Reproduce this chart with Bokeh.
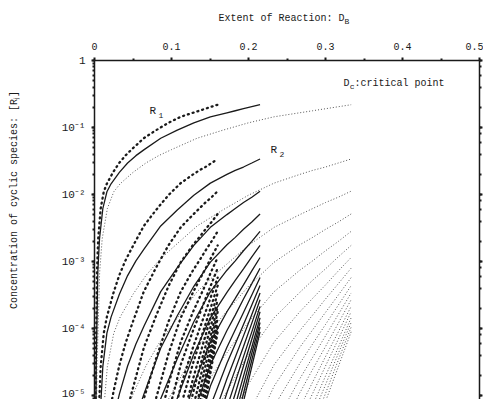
from bokeh.plotting import figure
from bokeh.models import (LinearAxis, LogAxis, FixedTicker, LogTicker, Range1d, Label, Title,
                          CustomJSTickFormatter)
from bokeh.embed import file_html
from bokeh.resources import INLINE

N = None
# Extent of reaction D_B sampled along each family of curves (each family ends at its critical point)
x_heavy = [0.0008, 0.0016, 0.0032, 0.0048, 0.008, 0.012, 0.016, 0.024, 0.032, 0.04,
           0.048, 0.064, 0.08, 0.096, 0.112, 0.128, 0.136, 0.144, 0.152, 0.16]
x_solid = [0.0011, 0.0022, 0.0043, 0.0065, 0.0108, 0.0161, 0.0215, 0.0323, 0.043, 0.0538,
           0.0645, 0.086, 0.1075, 0.129, 0.1505, 0.172, 0.1828, 0.1935, 0.2043, 0.215]
x_dotted = [0.0017, 0.0033, 0.0067, 0.01, 0.0167, 0.025, 0.0333, 0.05, 0.0667, 0.0833,
            0.1, 0.1333, 0.1667, 0.2, 0.2333, 0.2667, 0.2833, 0.3, 0.3167, 0.3333]

# log10 [R_j], rows j = 1 .. 18
log_Rj = [
    [-6.46, -4.56, -3.16, -2.66, -2.21, -1.96, -1.84, -1.67, -1.53, -1.42, -1.33, -1.16, -1.04, -0.93, -0.84, -0.78, -0.75, -0.72, -0.69, -0.66],
    [N, N, N, -5.47, -4.57, -4.07, -3.83, -3.49, -3.21, -2.99, -2.81, -2.47, -2.23, -2.01, -1.83, -1.70, -1.64, -1.59, -1.53, -1.47],
    [N, N, N, N, N, N, -5.49, -4.98, -4.56, -4.23, -3.96, -3.45, -3.09, -2.76, -2.49, -2.30, -2.21, -2.12, -2.04, -1.95],
    [N, N, N, N, N, N, N, N, N, -5.33, -4.97, -4.29, -3.81, -3.37, -3.01, -2.75, -2.64, -2.52, -2.41, -2.29],
    [N, N, N, N, N, N, N, N, N, N, -5.90, -5.05, -4.45, -3.90, -3.45, -3.13, -2.99, -2.84, -2.70, -2.55],
    [N, N, N, N, N, N, N, N, N, N, N, -5.76, -5.04, -4.38, -3.84, -3.46, -3.28, -3.11, -2.93, -2.76],
    [N, N, N, N, N, N, N, N, N, N, N, N, -5.60, -4.83, -4.20, -3.75, -3.55, -3.35, -3.14, -2.94],
    [N, N, N, N, N, N, N, N, N, N, N, N, N, -5.26, -4.54, -4.03, -3.80, -3.56, -3.33, -3.10],
    [N, N, N, N, N, N, N, N, N, N, N, N, N, -5.67, -4.86, -4.28, -4.02, -3.76, -3.50, -3.24],
    [N, N, N, N, N, N, N, N, N, N, N, N, N, N, -5.16, -4.52, -4.23, -3.94, -3.65, -3.36],
    [N, N, N, N, N, N, N, N, N, N, N, N, N, N, -5.45, -4.75, -4.43, -4.11, -3.79, -3.47],
    [N, N, N, N, N, N, N, N, N, N, N, N, N, N, -5.73, -4.96, -4.61, -4.27, -3.92, -3.57],
    [N, N, N, N, N, N, N, N, N, N, N, N, N, N, N, -5.18, -4.80, -4.42, -4.05, -3.67],
    [N, N, N, N, N, N, N, N, N, N, N, N, N, N, N, -5.37, -4.97, -4.56, -4.16, -3.75],
    [N, N, N, N, N, N, N, N, N, N, N, N, N, N, N, -5.58, -5.15, -4.71, -4.28, -3.84],
    [N, N, N, N, N, N, N, N, N, N, N, N, N, N, N, N, -5.30, -4.84, -4.37, -3.91],
    [N, N, N, N, N, N, N, N, N, N, N, N, N, N, N, N, -5.46, -4.97, -4.47, -3.98],
    [N, N, N, N, N, N, N, N, N, N, N, N, N, N, N, N, -5.62, -5.09, -4.57, -4.05],
]

x_major_ticks = [0, 0.1, 0.2, 0.3, 0.4, 0.5]
x_minor_ticks = [0.05, 0.15, 0.25, 0.35, 0.45]

FONT = "Liberation Mono"
INK = "#1a1a1a"

W, H = 483, 399
LEFT, TOP, RIGHT = 94, 60, 4
frame_w = W - LEFT - RIGHT
frame_h = H - TOP
dec_px = 67.0
y_lo = 10 ** (-frame_h / dec_px)

p = figure(width=W, height=H, output_backend="svg", toolbar_location=None, title=None,
           x_range=Range1d(0, 0.5), y_range=Range1d(y_lo, 1.0),
           y_axis_type="log", x_axis_location=None, y_axis_location="left",
           min_border_left=LEFT, min_border_top=TOP, min_border_right=RIGHT,
           min_border_bottom=0, background_fill_color="white",
           border_fill_color="white")
p.outline_line_color = None
p.xgrid.visible = False
p.ygrid.visible = False

# top x axis
top = LinearAxis(ticker=FixedTicker(ticks=x_major_ticks, minor_ticks=x_minor_ticks),
                 formatter=CustomJSTickFormatter(code="return tick.toFixed(1).replace(/\\.0$/, '');"))
p.add_layout(top, "above")

# right log axis (ticks only)
right = LogAxis(ticker=LogTicker())
p.add_layout(right, "right")

yax = p.yaxis[0]
for ax in [top, yax, right]:
    ax.axis_line_color = INK
    ax.axis_line_width = 1.5
    ax.major_tick_line_color = INK
    ax.minor_tick_line_color = INK
    ax.major_tick_line_width = 2
    ax.minor_tick_line_width = 2
    ax.major_tick_in = 0
    ax.minor_tick_in = 0
    ax.major_tick_out = 3
    ax.minor_tick_out = 2
    ax.major_label_text_font = FONT
    ax.major_label_text_font_size = "10px"
    ax.major_label_text_color = INK

top.major_label_standoff = 8
yax.major_label_standoff = 6
yax.major_label_text_font_size = "11px"
yax.formatter = CustomJSTickFormatter(code="""
const e = Math.round(Math.log10(tick));
if (e == 0) { return "1"; }
const sup = {"-": "\u207b", "0": "\u2070", "1": "\u00b9", "2": "\u00b2", "3": "\u00b3",
             "4": "\u2074", "5": "\u2075", "6": "\u2076", "7": "\u2077", "8": "\u2078", "9": "\u2079"};
return "10" + String(e).split("").map(c => sup[c]).join("");
""")
# y title: leading no-break spaces shift the visible text up the (cropped) axis
yax.axis_label = "\u00a0" * 10 + "Concentration of cyclic species: [R\u2c7c]"
yax.axis_label_text_font = FONT
yax.axis_label_text_font_size = "10px"
yax.axis_label_text_font_style = "normal"
yax.axis_label_text_color = INK
yax.axis_label_standoff = 39

right.major_label_text_font_size = "1px"
right.major_label_text_alpha = 0
right.major_label_standoff = 0

# curve families
styles = [
    (x_dotted, dict(line_color="#555555", line_width=1.0, line_dash="1 2")),
    (x_solid, dict(line_color=INK, line_width=1.3)),
    (x_heavy, dict(line_color=INK, line_width=2.3, line_dash="1 4", line_cap="round")),
]
for xs, st in styles:
    for row in log_Rj:
        px = [x for x, v in zip(xs, row) if v is not None]
        py = [10 ** v for v in row if v is not None]
        p.line(px, py, **st)


def lab(x, y, text, size="10px", **kw):
    p.add_layout(Label(x=x, y=y, text=text, text_font=FONT, text_font_size=size,
                       text_color=INK, text_baseline="middle", text_align="left", **kw))


# annotations inside the plot (data positions)
lab(0.0714, 10 ** -0.754, "R", "11px")
lab(0.0831, 10 ** -0.82, "1", "8px")
lab(0.2286, 10 ** -1.336, "R", "11px")
lab(0.2403, 10 ** -1.40, "2", "8px")
lab(0.3234, 10 ** -0.336, "D", "10px")
lab(0.3314, 10 ** -0.39, "c", "8px")
lab(0.3377, 10 ** -0.336, ":critical point", "10px")


def title(text, size, **kw):
    return Title(text=text, text_font=FONT, text_font_size=size, text_font_style="normal",
                 text_color=INK, **kw)


# x title with subscript B (side-panel titles)
p.add_layout(title("B", "8px", align="left", offset=250, standoff=28), "above")
p.add_layout(title("Extent of Reaction: D", "10px", align="left", offset=124, standoff=-46), "above")

open("out.html", "w").write(file_html(p, INLINE))
